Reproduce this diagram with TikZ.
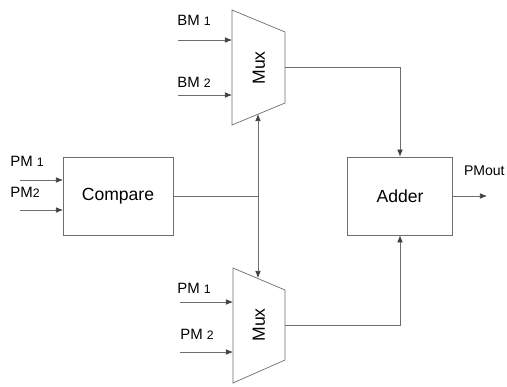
\documentclass[tikz,border=0pt]{standalone}
\usepackage{fontspec}
\setmainfont{Liberation Sans}
\usetikzlibrary{arrows.meta}
\definecolor{LineGray}{RGB}{110,110,110}
\begin{document}
\begin{tikzpicture}[x=0.02cm, y=-0.02cm,
        block/.style={draw=LineGray, fill=white, minimum width=2.1cm, minimum height=1.56cm, inner sep=0pt, font=\fontsize{10}{12}\selectfont},
        muxline/.style={draw=LineGray, fill=white},
        muxtext/.style={rotate=90, inner sep=0pt, font=\fontsize{10}{12}\selectfont},
        sig/.style={draw=LineGray, -{Latex[length=4pt, width=3.2pt, color=black!75]}},
        wire/.style={draw=LineGray},
        pinlabel/.style={anchor=west, inner sep=0pt, font=\fontsize{8.5}{10}\selectfont}
    ]
        \useasboundingbox (0,0) rectangle (507,386);
        % Blocks
        \node[block, minimum width=2.2cm] (cmp) at (118,196) {Compare};
        \node[block] (add) at (400,196) {Adder};
        % Upper multiplexer
        \draw[muxline] (232,10) -- (285,32) -- (285,103) -- (232,125) -- cycle;
        \node[muxtext] (muxA) at (259,68) {Mux};
        \coordinate (muxAout) at (285,67);
        \coordinate (muxAsel) at (258,114);
        % Lower multiplexer
        \draw[muxline] (233,268) -- (285,290) -- (285,360) -- (233,383) -- cycle;
        \node[muxtext] (muxB) at (259,325) {Mux};
        \coordinate (muxBout) at (285,325);
        \coordinate (muxBsel) at (258,278);
        % Inputs
        \foreach \n/\xa/\xb/\y in {c1/20/63/180, c2/20/63/210, a1/178/232/40, a2/178/232/95, b1/180/233/302, b2/180/233/352} {
            \coordinate (in\n) at (\xa,\y);
            \coordinate (to\n) at (\xb,\y);
            \draw[sig] (in\n) -- (to\n);
        }
        \node[pinlabel] (lc1) at (10,161) {PM {\scriptsize 1}};
        \node[pinlabel] (lc2) at (10,192) {PM{\scriptsize 2}};
        \node[pinlabel] (la1) at (177,20) {BM {\scriptsize 1}};
        \node[pinlabel] (la2) at (177,82) {BM {\scriptsize 2}};
        \node[pinlabel] (lb1) at (177,288) {PM {\scriptsize 1}};
        \node[pinlabel] (lb2) at (180,334) {PM {\scriptsize 2}};
        % Select lines
        \coordinate (split) at (258,196);
        \draw[wire] (cmp.east) -- (split);
        \draw[sig] (split) -- (muxAsel);
        \draw[sig] (split) -- (muxBsel);
        % Mux outputs to adder
        \draw[sig] (muxAout) -| (add.north);
        \draw[sig] (muxBout) -| (add.south);
        % Output
        \coordinate (out) at (487,196);
        \draw[sig] (add.east) -- (out);
        \node[pinlabel, anchor=east, font=\fontsize{8}{10}\selectfont] (lout) at (505,171) {PMout};
    \end{tikzpicture}
\end{document}
